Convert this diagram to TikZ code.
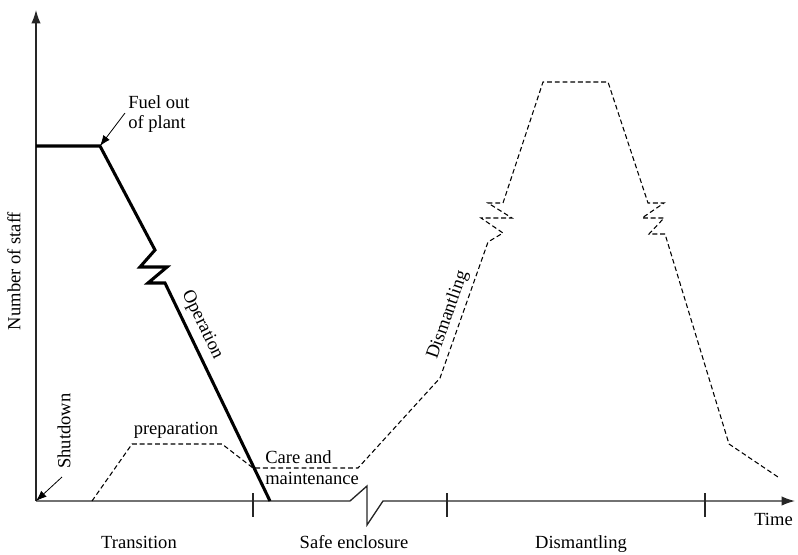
\documentclass[tikz,border=0pt]{standalone}
\usepackage{fontspec}
\setmainfont{Liberation Serif}
\usetikzlibrary{arrows.meta}
\begin{document}
\begin{tikzpicture}[x=0.75pt,y=-0.75pt,
  lbl/.style={font=\fontsize{13.9}{16}\selectfont, inner sep=0pt},
  axis/.style={line width=1pt, draw=black!85},
  axistip/.style={-{Latex[length=10pt,width=7pt]}},
  staff/.style={line width=2.3pt, line join=miter},
  plan/.style={line width=0.8pt, dash pattern=on 3.6pt off 2.2pt},
  pointer/.style={line width=0.6pt, -{Latex[length=8pt,width=6pt]}},
  tickmark/.style={line width=0.8pt, draw=black!85}]
\useasboundingbox (0,0) rectangle (798,554);

% axes
\coordinate (O) at (36,501);
\coordinate (ytop) at (36,10);
\coordinate (xend) at (795,501);
\coordinate (b1) at (350,501);
\coordinate (b2) at (367,486);
\coordinate (b3) at (367,525);
\coordinate (b4) at (383,501);
\draw[axis,axistip] (O) -- (ytop);
\draw[axis,axistip] (O) -- (b1) -- (b2) -- (b3) -- (b4) -- (xend);

% phase boundaries on the time axis
\foreach \n/\x in {t1/253,t2/447,t3/705}{
  \coordinate (\n a) at (\x,493);
  \coordinate (\n b) at (\x,517);
  \draw[tickmark] (\n a) -- (\n b);
}

% axis labels
\node[lbl,rotate=90] (ylab) at (14,271) {Number of staff};
\node[lbl,anchor=base east] (tlab) at (793,525) {Time};
\node[lbl,anchor=base] (ph1) at (139,548) {Transition};
\node[lbl,anchor=base] (ph2) at (354,548) {Safe enclosure};
\node[lbl,anchor=base] (ph3) at (581,548) {Dismantling};

% operating staff
\coordinate (s0) at (36,146);
\coordinate (s1) at (100,146);
\coordinate (s2) at (155,250);
\coordinate (s3) at (140,267);
\coordinate (s4) at (167,267);
\coordinate (s5) at (148,283);
\coordinate (s6) at (165,283);
\coordinate (s7) at (270,501);
\draw[staff] (s0) -- (s1) -- (s2) -- (s3) -- (s4) -- (s5) -- (s6) -- (s7);
\node[lbl,rotate=-64.3] (oplab) at (202,325) {Operation};

% decommissioning staff
\coordinate (d0) at (92,501);
\coordinate (d1) at (132,444);
\coordinate (d2) at (222,444);
\coordinate (d3) at (253,468);
\coordinate (d4) at (358,468);
\coordinate (d5) at (440,378);
\coordinate (d6) at (488,242);
\coordinate (d7) at (503,233);
\coordinate (d8) at (481,218);
\coordinate (d9) at (512,218);
\coordinate (d10) at (488,203);
\coordinate (d11) at (503,203);
\coordinate (d12) at (543,82);
\coordinate (d13) at (608,82);
\coordinate (d14) at (648,203);
\coordinate (d15) at (664,203);
\coordinate (d16) at (642,218);
\coordinate (d17) at (664,218);
\coordinate (d18) at (649,234);
\coordinate (d19) at (665,234);
\coordinate (d20) at (729,444);
\coordinate (d21) at (778,477);
\draw[plan] (d0) -- (d1) -- (d2) -- (d3) -- (d4) -- (d5) -- (d6) -- (d7)
  -- (d8) -- (d9) -- (d10) -- (d11) -- (d12) -- (d13) -- (d14) -- (d15)
  -- (d16) -- (d17) -- (d18) -- (d19) -- (d20) -- (d21);

\node[lbl,anchor=base] (prep) at (176,434) {preparation};
\node[lbl,anchor=base west] (care1) at (265,463) {Care and};
\node[lbl,anchor=base west] (care2) at (265,484) {maintenance};
\node[lbl,rotate=70.6] (dislab) at (448,315) {Dismantling};

% annotations
\node[lbl,rotate=90] (shut) at (64,431) {Shutdown};
\coordinate (shutfrom) at (62,477);
\draw[pointer] (shutfrom) -- (O);
\node[lbl,anchor=base west] (fuel1) at (128,108) {Fuel out};
\node[lbl,anchor=base west] (fuel2) at (128,128) {of plant};
\coordinate (fuelfrom) at (125,113);
\draw[pointer] (fuelfrom) -- (s1);
\end{tikzpicture}
\end{document}
